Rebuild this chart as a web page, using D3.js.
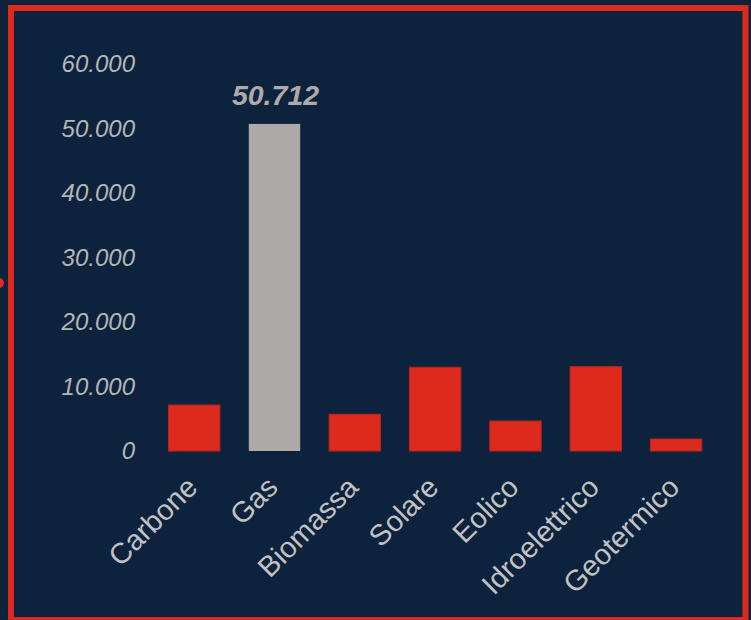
<!DOCTYPE html>
<html>
<head>
<meta charset="utf-8">
<script src="https://cdn.jsdelivr.net/npm/d3@7"></script>
<style>
  html, body { margin: 0; padding: 0; background: #0c223d; }
  svg { display: block; }
</style>
</head>
<body>
<div id="chart"></div>
<script>
var svgWidth = 751;
var svgHeight = 620;

// data
var categories = ["Carbone", "Gas", "Biomassa", "Solare", "Eolico", "Idroelettrico", "Geotermico"];
var values = [7130, 50712, 5690, 12980, 4650, 13070, 1860];
var highlighted = "Gas";
var yTicks = [0, 10000, 20000, 30000, 40000, 50000, 60000];

var itLocale = d3.formatLocale({decimal: ",", thousands: ".", grouping: [3], currency: ["", "€"]});
var fmt = itLocale.format(",.0f");

var red = "#dc2a1e";
var grey = "#aeaaaa";

var svg = d3.select("#chart")
	.append("svg")
	.attr("width", svgWidth)
	.attr("height", svgHeight)
	.style("background-color", "#0c223d");

var x = d3.scaleBand()
	.domain(categories)
	.range([154, 716.3])
	.paddingInner(0.36)
	.paddingOuter(0.18);

var y = d3.scaleLinear()
	.domain([0, 60000])
	.range([451, 64]);

// y tick labels, no line
var yAxis = svg.append("g")
	.attr("transform", "translate(135,0)")
	.call(d3.axisLeft(y).tickValues(yTicks).tickFormat(fmt).tickSize(0).tickPadding(0));
yAxis.select(".domain").remove();
yAxis.selectAll("text")
	.attr("fill", "#b5b5b5")
	.style("font-family", "'Liberation Sans', Arial, sans-serif")
	.style("font-size", "24px")
	.style("font-style", "italic");

// bars
svg.append("g")
	.selectAll("rect")
	.data(categories)
	.enter()
	.append("rect")
	.attr("x", function(d){ return x(d); })
	.attr("y", function(d, i){ return y(values[i]); })
	.attr("width", x.bandwidth())
	.attr("height", function(d, i){ return y(0) - y(values[i]); })
	.attr("fill", function(d){ return d === highlighted ? grey : red; })
	.attr("stroke", function(d){ return d === highlighted ? "none" : "#b3271f"; })
	.attr("stroke-width", 1);

// value label on highlighted bar
var hi = categories.indexOf(highlighted);
svg.append("text")
	.attr("x", x(highlighted) + x.bandwidth() / 2 + 1)
	.attr("y", y(values[hi]) - 19)
	.attr("text-anchor", "middle")
	.attr("fill", grey)
	.style("font-family", "'Liberation Sans', Arial, sans-serif")
	.style("font-size", "28.5px")
	.style("font-weight", "bold")
	.style("font-style", "italic")
	.text(fmt(values[hi]));

// x labels rotated
svg.append("g")
	.selectAll("text")
	.data(categories)
	.enter()
	.append("text")
	.attr("transform", function(d){ return "translate(" + (x(d) + x.bandwidth() / 2 + 5) + ",489) rotate(-45)"; })
	.attr("text-anchor", "end")
	.attr("fill", "#c2c2c2")
	.style("font-family", "'Liberation Sans', Arial, sans-serif")
	.style("font-size", "29px")
	.text(function(d){ return d; });

// frame
svg.append("rect")
	.attr("x", 11)
	.attr("y", 8)
	.attr("width", 734.5)
	.attr("height", 612)
	.attr("fill", "none")
	.attr("stroke", red)
	.attr("stroke-width", 6);

// little marker cut off at the left edge
svg.append("circle")
	.attr("cx", -1)
	.attr("cy", 283)
	.attr("r", 5)
	.attr("fill", red);
</script>
</body>
</html>
